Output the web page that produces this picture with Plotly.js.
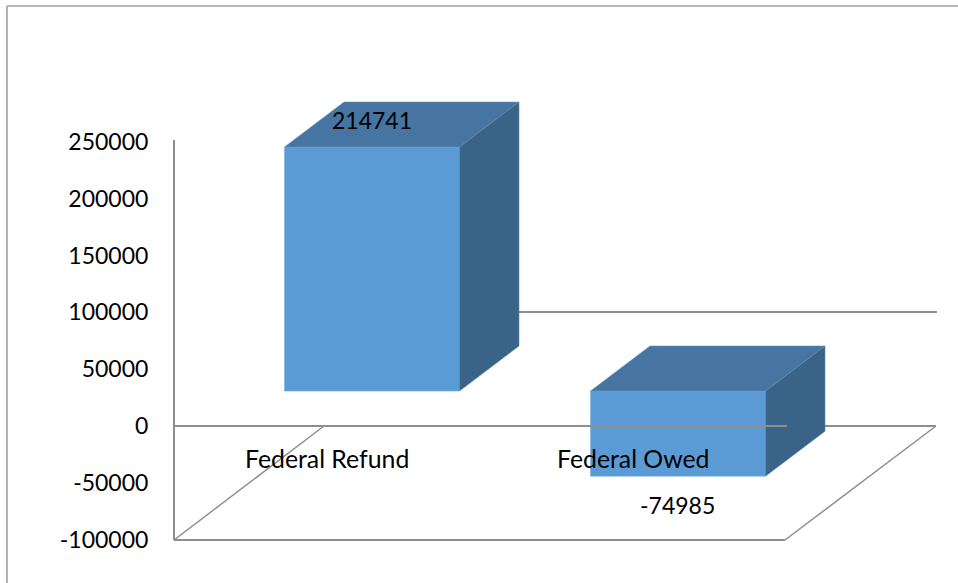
<!DOCTYPE html>
<html>
<head>
<meta charset="utf-8">
<script src="https://cdn.plot.ly/plotly-3.0.1.min.js"></script>
<style>html,body{margin:0;padding:0;background:#fff;overflow:hidden}#c{width:958px;height:583px}</style>
</head>
<body>
<div id="c"></div>
<script>
const categories = ['Federal Refund', 'Federal Owed'];
const values = [214741, -74985];
const tickValues = [250000, 200000, 150000, 100000, 50000, 0, -50000, -100000];
const tickLabels = ['250000', '200000', '150000', '100000', '50000', '0', '-50000', '-100000'];

// page-to-scale calibration of the oblique projection
const W = 958, H = 583, LEFT = 160;
const PX_PER_CAT = 306, CAT0_PX = 372, ZERO_PX = 426, PX_PER_UNIT = 0.001136;
const xOf = p => (p - CAT0_PX) / PX_PER_CAT;
const yOf = p => (ZERO_PX - p) / PX_PER_UNIT;
const BAR_W = 175 / PX_PER_CAT, HALF = BAR_W / 2;
const DX = 59.5 / PX_PER_CAT, DY = 45 / PX_PER_UNIT;
const BASE = yOf(391);

const FRONT = '#5B9BD5', TOP = '#4675A2', SIDE = '#3A6487', LINE = '#8E8E8E';
const xs = categories.map((_, i) => i);

const traces = [{
  type: 'bar', x: xs, y: values, base: values.map(() => BASE), width: BAR_W,
  marker: {color: FRONT, line: {width: 0.6, color: '#79ADDD'}}, hoverinfo: 'skip'
}];
values.forEach((v, i) => {
  const l = i - HALF, r = i + HALF, a = BASE + Math.max(v, 0), b = BASE + Math.min(v, 0);
  traces.push({type: 'scatter', mode: 'lines', fill: 'toself', fillcolor: TOP,
    x: [l, l + DX, r + DX, r, l], y: [a, a + DY, a + DY, a, a],
    line: {width: 0.6, color: '#6C94BC'}, hoverinfo: 'skip'});
  traces.push({type: 'scatter', mode: 'lines', fill: 'toself', fillcolor: SIDE,
    x: [r, r + DX, r + DX, r, r], y: [a, a + DY, b + DY, b, a],
    line: {width: 0.6, color: '#5F88AD'}, hoverinfo: 'skip'});
});

const ln = (x0, y0, x1, y1, layer, width) => ({type: 'line', xref: 'x', yref: 'y', layer: layer || 'below',
  x0: xOf(x0), x1: xOf(x1), y0: yOf(y0), y1: yOf(y1), line: {color: LINE, width: width || 2}});
const px = p => (p - LEFT) / (W - LEFT);
const pageEdge = (x0, y0, x1, y1) => ({type: 'line', xref: 'paper', yref: 'paper', layer: 'below',
  x0: px(x0), x1: px(x1), y0: 1 - y0 / H, y1: 1 - y1 / H, line: {color: '#A0A0A0', width: 1.6}});

const shapes = [
  pageEdge(7, 6, 958, 6),
  pageEdge(7, 6, 7, 583),
  ln(174, 140, 174, 540),
  ln(174, 540, 785, 540),
  ln(174, 540, 324, 426, 'below', 1.5),
  ln(785, 540, 936, 426, 'below', 1.5),
  ln(174, 426, 936, 426),
  ln(460, 312, 937, 312),
  ln(174, 426, 787, 426, 'above')
];

const ann = (t, xp, yp, size) => ({text: t, x: xOf(xp), y: yOf(yp), xref: 'x', yref: 'y', showarrow: false,
  xanchor: 'center', yanchor: 'middle', font: {family: 'Lato, sans-serif', size: size, color: '#000'}});
const annotations = [
  ann(categories[0], 327, 458, 24.8),
  ann(categories[1], 633, 458, 24.8),
  ann(String(values[0]), 371.5, 120, 23),
  ann(String(values[1]), 677, 505, 23)
];

Plotly.newPlot('c', traces, {
  width: W, height: H, showlegend: false, hovermode: false,
  paper_bgcolor: '#fff', plot_bgcolor: 'rgba(0,0,0,0)',
  margin: {l: LEFT, r: 0, t: 0, b: 0, pad: 0},
  xaxis: {range: [xOf(LEFT), xOf(W)], visible: false, fixedrange: true},
  yaxis: {range: [yOf(H), yOf(0)], tickmode: 'array', tickvals: tickValues, ticktext: tickLabels,
    showgrid: false, zeroline: false, showline: false, ticks: 'outside', ticklen: 6, tickcolor: 'rgba(0,0,0,0)',
    tickfont: {family: 'Lato, sans-serif', size: 23, color: '#000'}, fixedrange: true},
  shapes: shapes, annotations: annotations, bargap: 0
}, {displayModeBar: false, staticPlot: true});
</script>
</body>
</html>
